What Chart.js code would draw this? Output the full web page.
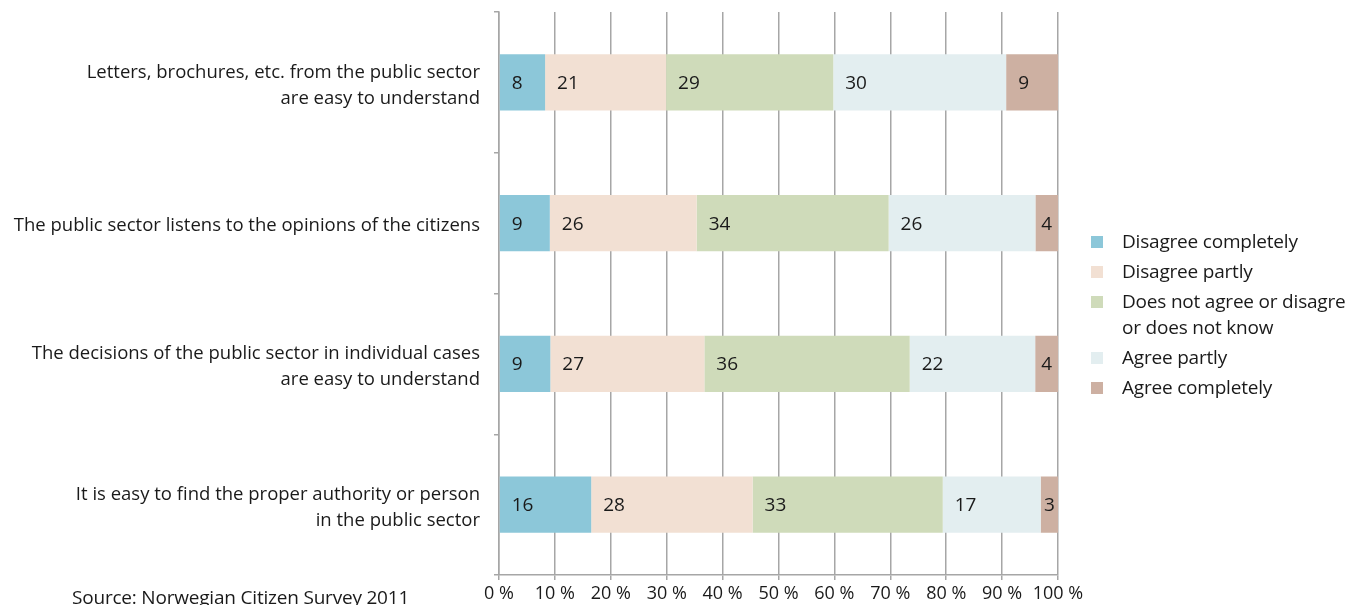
<!DOCTYPE html>
<html>
<head>
<meta charset="utf-8">
<script src="https://cdn.jsdelivr.net/npm/chart.js@4/dist/chart.umd.min.js"></script>
<style>
  html, body { margin: 0; padding: 0; background: #fff; }
  body { width: 1358px; height: 605px; position: relative; overflow: hidden; font-family: "Open Sans", sans-serif; color: #1a1a1a; }
  #chart { position: absolute; left: 0; top: 0; }
  #legend { position: absolute; left: 1091px; top: 228px; font-size: 19px; letter-spacing: -0.2px; }
  #legend .item { position: relative; padding-left: 31px; line-height: 26px; margin-bottom: 4px; white-space: nowrap; }
  #legend .box { position: absolute; left: 0; top: 8px; width: 12px; height: 12px; }
  #source { position: absolute; left: 72px; top: 584px; font-size: 19px; letter-spacing: -0.2px; white-space: nowrap; }
</style>
</head>
<body>
<canvas id="chart" width="1358" height="605"></canvas>
<div id="legend"></div>
<div id="source">Source: Norwegian Citizen Survey 2011</div>
<script>
/* ── 데이터 ── */
var categories = [
  ['Letters, brochures, etc. from the public sector', 'are easy to understand'],
  ['The public sector listens to the opinions of the citizens'],
  ['The decisions of the public sector in individual cases', 'are easy to understand'],
  ['It is easy to find the proper authority or person', 'in the public sector']
];
var seriesNames = ['Disagree completely', 'Disagree partly', 'Does not agree or disagre\nor does not know', 'Agree partly', 'Agree completely'];
var seriesColors = ['#8cc7d9', '#f2e0d3', '#cfdbba', '#e3eef0', '#cdb0a2'];
var disagreeCompletely = [8, 9, 9, 16];
var disagreePartly = [21, 26, 27, 28];
var neutral = [29, 34, 36, 33];
var agreePartly = [30, 26, 22, 17];
var agreeCompletely = [9, 4, 4, 3];
var xTicks = [0, 10, 20, 30, 40, 50, 60, 70, 80, 90, 100];

var raw = [disagreeCompletely, disagreePartly, neutral, agreePartly, agreeCompletely];

// 행별 합계로 나눠 100% 막대로
var rowTotals = categories.map(function(_, i) {
  return raw.reduce(function(s, arr) { return s + arr[i]; }, 0);
});

var datasets = raw.map(function(arr, k) {
  return {
    label: seriesNames[k],
    data: arr.map(function(v, i) { return v / rowTotals[i] * 100; }),
    rawValues: arr,
    backgroundColor: seriesColors[k],
    borderWidth: 0,
    barPercentage: 0.4,
    categoryPercentage: 1.0
  };
});

/* ── 막대 안 값 표시 ── */
var valueLabels = {
  id: 'valueLabels',
  afterDatasetsDraw: function(chart) {
    var c = chart.ctx;
    c.save();
    c.font = '19px "Open Sans", sans-serif';
    c.fillStyle = '#1a1a1a';
    c.textBaseline = 'middle';
    c.textAlign = 'left';
    chart.data.datasets.forEach(function(ds, k) {
      chart.getDatasetMeta(k).data.forEach(function(bar, i) {
        var txt = String(ds.rawValues[i]);
        var left = Math.min(bar.x, bar.base);
        var w = Math.abs(bar.x - bar.base);
        var tw = c.measureText(txt).width;
        var pad = Math.min(12, Math.max(2, (w - tw) / 2));
        c.fillText(txt, left + pad, bar.y + 1);
      });
    });
    c.restore();
  }
};

new Chart(document.getElementById('chart').getContext('2d'), {
  type: 'bar',
  data: { labels: categories, datasets: datasets },
  plugins: [valueLabels],
  options: {
    indexAxis: 'y',
    responsive: false,
    animation: false,
    devicePixelRatio: 1,
    layout: { padding: { top: 12, right: 300, left: 0, bottom: 0 } },
    plugins: { legend: { display: false }, tooltip: { enabled: false } },
    scales: {
      x: {
        stacked: true,
        min: 0, max: 100,
        afterBuildTicks: function(axis) { axis.ticks = xTicks.map(function(v) { return { value: v }; }); },
        afterFit: function(axis) { axis.height = 30; },
        border: { color: '#a6a6a6', width: 1.5 },
        grid: { color: '#a6a6a6', lineWidth: 1.5, tickLength: 5, drawTicks: true },
        ticks: {
          padding: 3,
          color: '#1a1a1a',
          font: { family: '"Open Sans", sans-serif', size: 18 },
          maxRotation: 0,
          callback: function(v) { return v + ' %'; }
        }
      },
      y: {
        stacked: true,
        offset: true,
        afterFit: function(axis) { axis.width = 499; axis.paddingTop = 0; axis.paddingBottom = 0; },
        border: { color: '#a6a6a6', width: 1.5 },
        grid: { offset: true, drawOnChartArea: false, color: '#a6a6a6', lineWidth: 1.5, tickLength: 5 },
        ticks: {
          padding: 14,
          labelOffset: 3,
          color: '#1a1a1a',
          font: { family: '"Open Sans", sans-serif', size: 18.5, lineHeight: 1.4 }
        }
      }
    }
  }
});

/* ── 범례 ── */
document.getElementById('legend').innerHTML = seriesNames.map(function(n, k) {
  return '<div class="item"><span class="box" style="background:' + seriesColors[k] + '"></span>' +
    n.replace('\n', '<br>') + '</div>';
}).join('');
</script>
</body>
</html>
